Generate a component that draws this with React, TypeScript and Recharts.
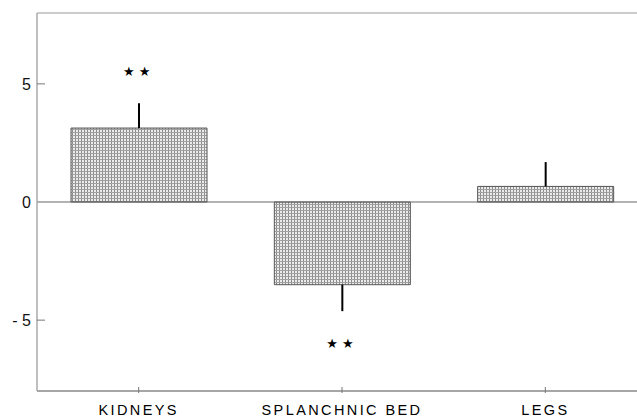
import React from 'react';
import { BarChart, Bar, XAxis, YAxis, ErrorBar, ReferenceLine, ReferenceDot } from 'recharts';

const categories = ['KIDNEYS', 'SPLANCHNIC BED', 'LEGS'];
const values = [3.13, -3.5, 0.66];
const errLow = [0, 1.12, 0];
const errHigh = [1.05, 0, 1.03];
const yTicks = [-5, 0, 5];
const yTickLabels: Record<string, string> = { '-5': '- 5', '0': '0', '5': '5' };
const starCats = ['KIDNEYS', 'SPLANCHNIC BED'];
const starYs = [5.53, -6.0];

const data = categories.map((c, i) => ({ name: c, value: values[i], err: [errLow[i], errHigh[i]] }));

const YTick = (props: any) => {
  const { x, y, payload } = props;
  return (
    <g>
      <text x={x} y={y} dy={6} textAnchor="end" fontSize={16} fill="#111" fontFamily="Liberation Sans, Arial, sans-serif">
        {yTickLabels[String(payload.value)] ?? String(payload.value)}
      </text>
      {payload.value !== 0 && <line x1={x + 6} x2={x + 14} y1={y} y2={y} stroke="#777" strokeWidth={1} />}
    </g>
  );
};

const XTick = (props: any) => {
  const { x, y, payload } = props;
  return (
    <g>
      <line x1={x} x2={x} y1={y} y2={y - 6} stroke="#777" strokeWidth={1} />
      <text x={x} y={y} dy={22} textAnchor="middle" fontSize={14.5} letterSpacing={2.4} fill="#000" fontFamily="Liberation Sans, Arial, sans-serif">
        {payload.value}
      </text>
    </g>
  );
};

export default function App() {
  return (
    <div style={{ position: 'absolute', left: 0, top: 0, width: 637, height: 419, overflow: 'hidden', background: '#fff' }}>
      <BarChart width={660} height={419} data={data} margin={{ top: 13, right: 13, bottom: 0, left: 0 }} barSize={136} accessibilityLayer={false}>
        <defs>
          <pattern id="stipple" width="3" height="3" patternUnits="userSpaceOnUse">
            <rect x="0" y="0" width="3" height="3" fill="#ececec" />
            <rect x="0" y="0" width="1" height="3" fill="#8c8c8c" />
            <rect x="0" y="0" width="3" height="1" fill="#a0a0a0" />
          </pattern>
        </defs>
        <XAxis dataKey="name" height={28} tickSize={0} tick={<XTick />} axisLine={{ stroke: '#888', strokeWidth: 1.5 }} interval={0} />
        <YAxis domain={[-8, 8]} ticks={yTicks} width={37} tickSize={0} tickMargin={6} tick={<YTick />} axisLine={{ stroke: '#aaa', strokeWidth: 1.5 }} />
        <ReferenceLine y={8} stroke="#999" strokeWidth={1} />
        <ReferenceLine y={0} stroke="#666" strokeWidth={1} />
        <Bar dataKey="value" fill="url(#stipple)" stroke="#555" strokeWidth={1} isAnimationActive={false}>
          <ErrorBar dataKey="err" width={0} stroke="#000" strokeWidth={2} direction="y" />
        </Bar>
        {starCats.map((c, i) => (
          <ReferenceDot key={c} x={c} y={starYs[i]} r={0} stroke="none" fill="none"
            label={{ value: '★★', position: 'center', fill: '#000', fontSize: 13, letterSpacing: 4, fontFamily: 'DejaVu Sans' }} />
        ))}
      </BarChart>
    </div>
  );
}
